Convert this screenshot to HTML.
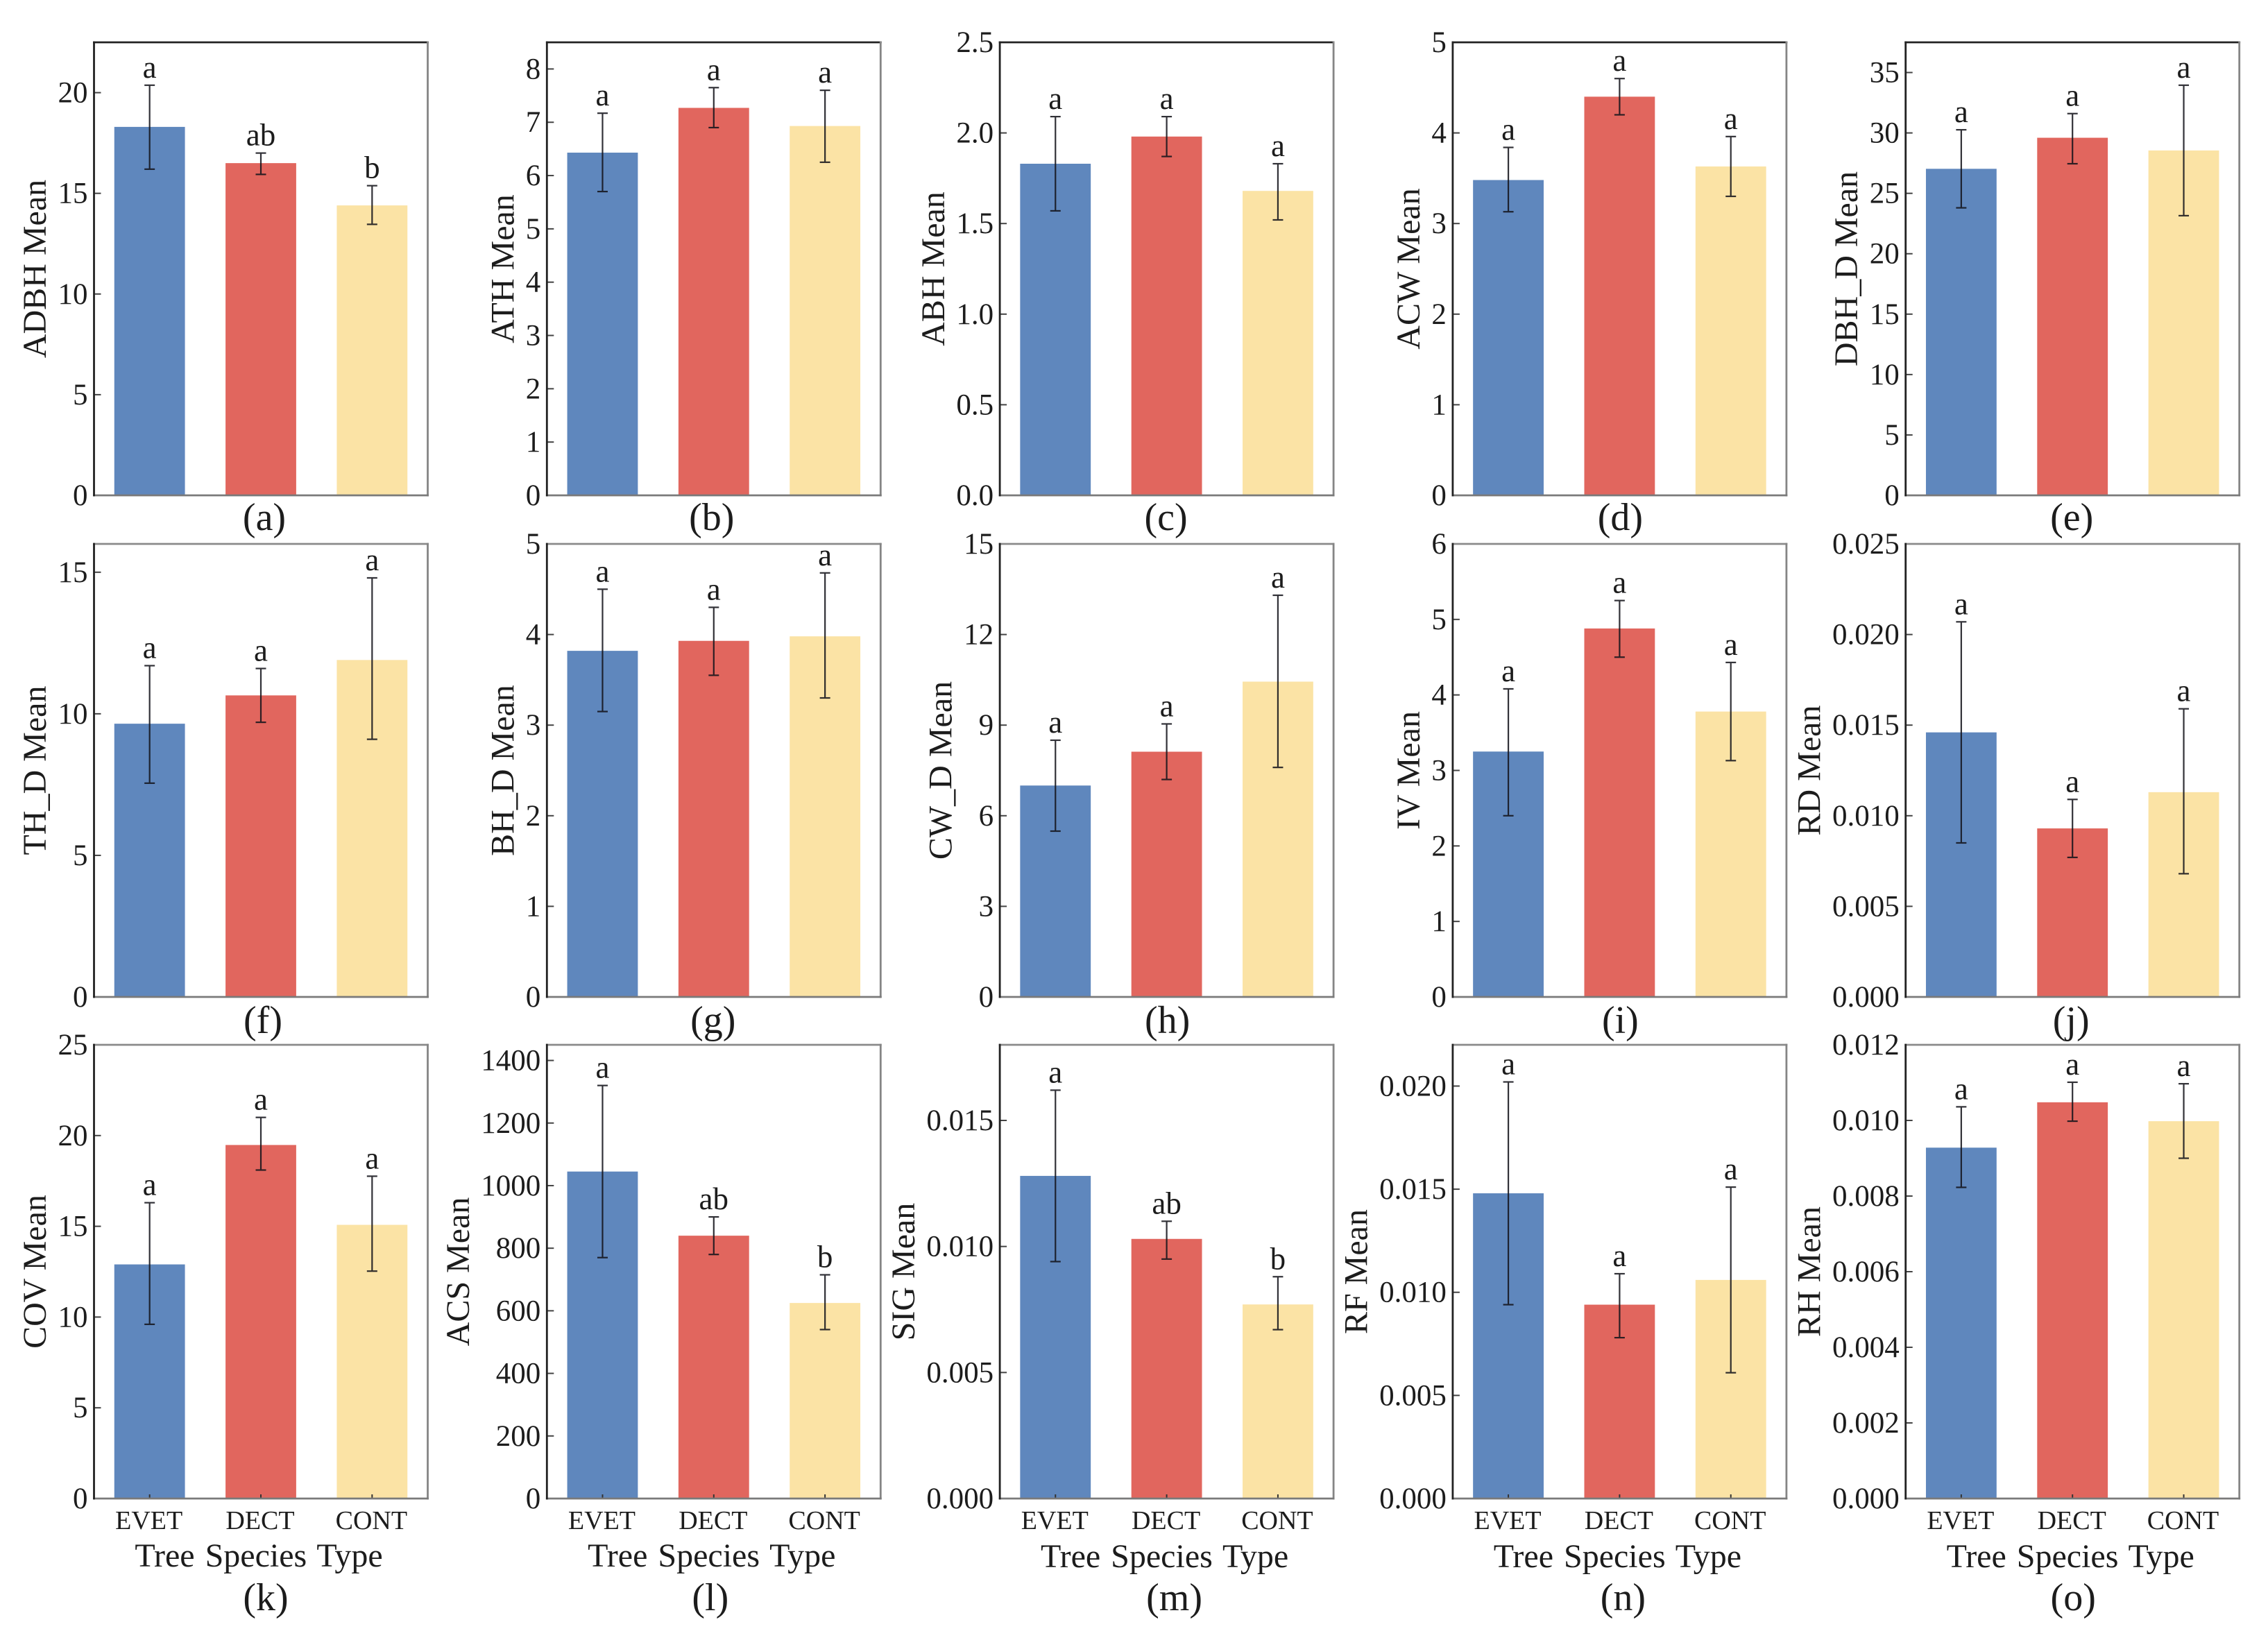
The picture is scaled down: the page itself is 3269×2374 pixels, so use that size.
<!DOCTYPE html>
<html lang="en">
<head>
<meta charset="utf-8">
<title>Tree species type comparison bar charts</title>
<style>
html,body{margin:0;padding:0;background:#fff;}
svg{display:block;}
text{font-family:"Liberation Serif","Times New Roman",serif;fill:#1c1c1c;}
</style>
</head>
<body>
<svg id="figure" xmlns="http://www.w3.org/2000/svg" width="3269" height="2374" viewBox="0 0 3269 2374"></svg>
<script>
const categories = ['EVET', 'DECT', 'CONT'];
const panelIds = ['a','b','c','d','e','f','g','h','i','j','k','l','m','n','o'];
const yAxisTitles = ['ADBH Mean','ATH Mean','ABH Mean','ACW Mean','DBH_D Mean','TH_D Mean','BH_D Mean','CW_D Mean','IV Mean','RD Mean','COV Mean','ACS Mean','SIG Mean','RF Mean','RH Mean'];
const xAxisTitle = 'Tree Species Type';
const yMaxima = [22.5, 8.5, 2.5, 5, 37.5, 16, 5, 15, 6, 0.025, 25, 1450, 0.018, 0.022, 0.012];
const yTickLabels = [
  ['0','5','10','15','20'],
  ['0','1','2','3','4','5','6','7','8'],
  ['0.0','0.5','1.0','1.5','2.0','2.5'],
  ['0','1','2','3','4','5'],
  ['0','5','10','15','20','25','30','35'],
  ['0','5','10','15'],
  ['0','1','2','3','4','5'],
  ['0','3','6','9','12','15'],
  ['0','1','2','3','4','5','6'],
  ['0.000','0.005','0.010','0.015','0.020','0.025'],
  ['0','5','10','15','20','25'],
  ['0','200','400','600','800','1000','1200','1400'],
  ['0.000','0.005','0.010','0.015'],
  ['0.000','0.005','0.010','0.015','0.020'],
  ['0.000','0.002','0.004','0.006','0.008','0.010','0.012']
];
const barMeans = [
  [18.3, 16.5, 14.4],
  [6.43, 7.27, 6.93],
  [1.83, 1.98, 1.68],
  [3.48, 4.4, 3.63],
  [27.03, 29.6, 28.55],
  [9.65, 10.65, 11.9],
  [3.82, 3.93, 3.98],
  [7.0, 8.12, 10.44],
  [3.25, 4.88, 3.78],
  [0.0146, 0.0093, 0.0113],
  [12.9, 19.48, 15.08],
  [1045, 840, 625],
  [0.0128, 0.0103, 0.0077],
  [0.0148, 0.0094, 0.0106],
  [0.00928, 0.01048, 0.00998]
];
const errorLows = [
  [16.2, 15.94, 13.46],
  [5.7, 6.9, 6.25],
  [1.57, 1.87, 1.52],
  [3.13, 4.2, 3.3],
  [23.8, 27.45, 23.15],
  [7.55, 9.7, 9.1],
  [3.15, 3.55, 3.3],
  [5.49, 7.2, 7.6],
  [2.4, 4.5, 3.13],
  [0.0085, 0.0077, 0.0068],
  [9.6, 18.1, 12.53],
  [770, 780, 540],
  [0.0094, 0.0095, 0.0067],
  [0.0094, 0.0078, 0.0061],
  [0.00823, 0.00998, 0.009]
];
const errorHighs = [
  [20.37, 17.0, 15.38],
  [7.17, 7.65, 7.6],
  [2.09, 2.09, 1.83],
  [3.84, 4.6, 3.96],
  [30.26, 31.6, 33.95],
  [11.7, 11.6, 14.8],
  [4.5, 4.3, 4.68],
  [8.5, 9.04, 13.3],
  [4.08, 5.25, 4.43],
  [0.0207, 0.0109, 0.0159],
  [16.3, 21.0, 17.76],
  [1320, 900, 715],
  [0.0162, 0.011, 0.0088],
  [0.0202, 0.0109, 0.0151],
  [0.01036, 0.01101, 0.01097]
];
const significanceLetters = [
  ['a','ab','b'],['a','a','a'],['a','a','a'],['a','a','a'],['a','a','a'],
  ['a','a','a'],['a','a','a'],['a','a','a'],['a','a','a'],['a','a','a'],
  ['a','a','a'],['a','ab','b'],['a','ab','b'],['a','a','a'],['a','a','a']
];

const SVG_NS = 'http://www.w3.org/2000/svg';
const figure = document.getElementById('figure');

function make(parent, tag, props, content) {
  const node = document.createElementNS(SVG_NS, tag);
  for (const key in props) node.setAttribute(key, props[key]);
  if (content !== undefined) node.textContent = content;
  parent.appendChild(node);
  return node;
}

function panelBox(index) {
  const col = index % 5;
  const row = Math.floor(index / 5);
  const left = 135.5 + col * 652.8;
  const tops = [61, 784, 1506];
  const bottoms = [714, 1437, 2160];
  return { col, row, left, right: left + 481, top: tops[row], bottom: bottoms[row] };
}

function drawPanel(index) {
  const box = panelBox(index);
  const id = panelIds[index];
  const width = box.right - box.left;
  const height = box.bottom - box.top;
  const yScale = function (value) { return box.bottom - value / yMaxima[index] * height; };
  const xScale = function (position) { return box.left + (position + 0.5) / categories.length * width; };
  const barWidth = 0.635 * width / categories.length;

  const group = make(figure, 'g', {});
  
  

  categories.forEach(function (category, c) {
    const yTop = yScale(barMeans[index][c]);
    const bar = make(group, 'rect', {
      x: xScale(c) - barWidth / 2, y: yTop, width: barWidth, height: box.bottom - yTop,
      fill: ['#5f87bd', '#e1665e', '#fbe3a5'][c]
    });
    
    

    const errGroup = make(group, 'g', { stroke: '#15151c', 'stroke-width': 2.2, fill: 'none', opacity: 0.88 });
    
    
    const cx = xScale(c);
    const yHi = yScale(errorHighs[index][c]);
    const yLo = yScale(errorLows[index][c]);
    make(errGroup, 'line', { x1: cx, x2: cx, y1: yHi, y2: yLo });
    make(errGroup, 'line', { x1: cx - 7.5, x2: cx + 7.5, y1: yHi, y2: yHi });
    make(errGroup, 'line', { x1: cx - 7.5, x2: cx + 7.5, y1: yLo, y2: yLo });

    const letter = make(group, 'text', {
      x: cx, y: yHi - 11, 'text-anchor': 'middle', 'font-size': 45
    }, significanceLetters[index][c]);
    
    

    if (box.row === 2) {
      const tick = make(group, 'line', { x1: cx, x2: cx, y1: box.bottom, y2: box.bottom - 6, stroke: '#333', 'stroke-width': 2 });
      
      
      const label = make(group, 'text', {
        x: cx - 1, y: box.bottom + 44, 'text-anchor': 'middle', 'font-size': 38, fill: '#2a2a2a'
      }, category);
      
      
    }
  });

  let widest = 0;
  yTickLabels[index].forEach(function (tickLabel) {
    const y = yScale(parseFloat(tickLabel));
    const tick = make(group, 'line', { x1: box.left, x2: box.left + 10, y1: y, y2: y, stroke: '#444', 'stroke-width': 2 });
    
    
    const label = make(group, 'text', {
      x: box.left - 9, y: y + 14, 'text-anchor': 'end', 'font-size': 43, fill: '#262626'
    }, tickLabel);
    
    
    widest = Math.max(widest, label.getComputedTextLength());
  });

  const frameTop = box.row === 0 ? '#222' : '#8a8a8a';
  const spines = [
    ['top', box.left, box.top, box.right, box.top, frameTop],
    ['right', box.right, box.top, box.right, box.bottom, '#858585'],
    ['bottom', box.left, box.bottom, box.right, box.bottom, '#7a7a7a'],
    ['left', box.left, box.top, box.left, box.bottom, '#222']
  ];
  spines.forEach(function (spine) {
    const line = make(group, 'line', {
      x1: spine[1], y1: spine[2], x2: spine[3], y2: spine[4], stroke: spine[5], 'stroke-width': 2.8, 'stroke-linecap': 'square'
    });
    
    
  });

  const titleX = box.left - widest - 42.5 + 16;
  const titleY = (box.top + box.bottom) / 2;
  const yTitle = make(group, 'text', {
    x: titleX, y: titleY, 'text-anchor': 'middle', 'font-size': 48,
    transform: 'rotate(-90 ' + titleX + ' ' + titleY + ')'
  }, yAxisTitles[index]);
  
  

  const centerX = (box.left + box.right) / 2;
  if (box.row === 2) {
    const xTitle = make(group, 'text', {
      x: centerX - 3, y: box.bottom + 98 + (box.col >= 2 ? 1 : 0), 'text-anchor': 'middle', 'font-size': 48, 'word-spacing': 3
    }, xAxisTitle);
    
    
  }
  const captionNudge = [5, -3, -1, 1, -1, 3, -1, 1, 1, -2, 7, -5, 11, 5, 1][index];
  const captionY = box.row === 2 ? box.bottom + 161 : box.bottom + (box.row === 1 ? 52 : 50);
  const caption = make(group, 'text', {
    x: centerX + captionNudge, y: captionY, 'text-anchor': 'middle', 'font-size': 56
  }, '(' + id + ')');
  
  
}

panelIds.forEach(function (id, index) { drawPanel(index); });
</script>
</body>
</html>
